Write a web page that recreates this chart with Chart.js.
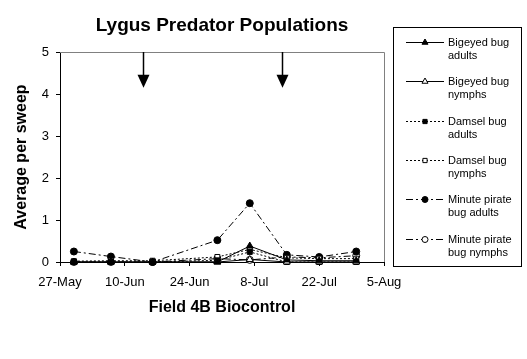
<!DOCTYPE html>
<html>
<head>
<meta charset="utf-8">
<script src="https://cdn.jsdelivr.net/npm/chart.js@4.4.1/dist/chart.umd.min.js"></script>
<style>
  html, body { margin: 0; padding: 0; background: #fff; }
  #chart { display: block; }
</style>
</head>
<body>
<canvas id="chart" width="527" height="359"></canvas>
<script>
// sample dates (season starts 27-May)
const sampleDates = ["30-May", "7-Jun", "16-Jun", "30-Jun", "7-Jul", "15-Jul", "22-Jul", "30-Jul"];
const tickLabels = ["27-May", "10-Jun", "24-Jun", "8-Jul", "22-Jul", "5-Aug"];

const bigeyedAdults = [0, 0, 0, 0, 0.38, 0.05, 0.03, 0.03];
const bigeyedNymphs = [0, 0, 0, 0, 0.06, 0, 0, 0];
const damselAdults = [0, 0, 0, 0.04, 0.24, 0, 0, 0];
const damselNymphs = [0.02, 0.03, 0.03, 0.12, 0.3, 0.1, 0.08, 0.08];
const pirateAdults = [0.25, 0.13, 0, 0.52, 1.4, 0.17, 0.12, 0.25];
const pirateNymphs = [0, 0, 0, 0.08, 0.05, 0.12, 0.1, 0.15];

// release arrows
const arrowDates = ["14-Jun", "14-Jul"];
const arrowTip = 4.15;

const months = { May: 4, Jun: 5, Jul: 6, Aug: 7 };
function dayOf(label) {
  const [d, m] = label.split("-");
  return (Date.UTC(2000, months[m], +d) - Date.UTC(2000, 4, 27)) / 86400000;
}

function series(values) {
  return values.map((v, i) => ({ x: dayOf(sampleDates[i]), y: v }));
}

const font = "Arial, 'Liberation Sans', sans-serif";
const solid = [];
const dotted = [2, 2];
const dashDot = [7, 3, 2, 3];

const datasets = [
  { label: ["Bigeyed bug", "adults"], data: series(bigeyedAdults), borderDash: solid, pointStyle: "triangle", pointBackgroundColor: "#000", pointRadius: 4 },
  { label: ["Bigeyed bug", "nymphs"], data: series(bigeyedNymphs), borderDash: solid, pointStyle: "triangle", pointBackgroundColor: "#fff", pointRadius: 4 },
  { label: ["Damsel bug", "adults"], data: series(damselAdults), borderDash: dotted, pointStyle: "rect", pointBackgroundColor: "#000", pointRadius: 3.5 },
  { label: ["Damsel bug", "nymphs"], data: series(damselNymphs), borderDash: dotted, pointStyle: "rect", pointBackgroundColor: "#fff", pointRadius: 3.5 },
  { label: ["Minute pirate", "bug adults"], data: series(pirateAdults), borderDash: dashDot, pointStyle: "circle", pointBackgroundColor: "#000", pointRadius: 3.5 },
  { label: ["Minute pirate", "bug nymphs"], data: series(pirateNymphs), borderDash: dashDot, pointStyle: "circle", pointBackgroundColor: "#fff", pointRadius: 3.5 },
].map((d) => Object.assign({
  borderColor: "#000",
  borderWidth: 1,
  pointBorderColor: "#000",
  pointBorderWidth: 1,
  tension: 0,
  clip: false,
}, d));

function marker(ctx, ds, x, y) {
  ctx.save();
  ctx.setLineDash([]);
  ctx.fillStyle = ds.pointBackgroundColor;
  ctx.strokeStyle = "#000";
  ctx.lineWidth = 1;
  Chart.helpers.drawPoint(ctx, { pointStyle: ds.pointStyle, radius: ds.pointRadius - 0.5, rotation: 0, borderWidth: 1 }, x, y);
  ctx.restore();
}

const decor = {
  id: "decor",
  afterDraw(chart) {
    const ctx = chart.ctx;
    const { left, right, top, bottom } = chart.chartArea;
    const xs = chart.scales.x, ys = chart.scales.y;
    ctx.save();

    // plot frame (top/right)
    ctx.strokeStyle = "#808080";
    ctx.lineWidth = 1;
    ctx.beginPath();
    ctx.moveTo(left, top + 0.5);
    ctx.lineTo(right + 0.5, top + 0.5);
    ctx.lineTo(right + 0.5, bottom);
    ctx.stroke();

    // title
    ctx.fillStyle = "#000";
    ctx.font = "bold 19px " + font;
    ctx.textAlign = "center";
    ctx.textBaseline = "middle";
    ctx.fillText("Lygus Predator Populations", (left + right) / 2, 26);

    // arrows
    arrowDates.forEach((d) => {
      const x = Math.round(xs.getPixelForValue(dayOf(d))) + 0.5;
      const yTip = ys.getPixelForValue(arrowTip);
      ctx.strokeStyle = "#000";
      ctx.lineWidth = 1.5;
      ctx.beginPath();
      ctx.moveTo(x, top);
      ctx.lineTo(x, yTip - 12);
      ctx.stroke();
      ctx.fillStyle = "#000";
      ctx.beginPath();
      ctx.moveTo(x - 6, yTip - 13);
      ctx.lineTo(x + 6, yTip - 13);
      ctx.lineTo(x, yTip);
      ctx.closePath();
      ctx.fill();
    });

    // legend
    ctx.strokeStyle = "#000";
    ctx.lineWidth = 1;
    ctx.setLineDash([]);
    ctx.strokeRect(393.5, 27.5, 128, 239);
    ctx.font = "11px " + font;
    ctx.textAlign = "left";
    chart.data.datasets.forEach((ds, i) => {
      const y = Math.round(42 + i * 39.3) + 0.5;
      ctx.strokeStyle = "#000";
      ctx.lineWidth = 1;
      ctx.setLineDash(ds.borderDash);
      ctx.beginPath();
      ctx.moveTo(406, y);
      ctx.lineTo(444, y);
      ctx.stroke();
      marker(ctx, ds, 425, y);
      ctx.fillStyle = "#000";
      ds.label.forEach((t, j) => ctx.fillText(t, 448, y + j * 13));
    });
    ctx.restore();
  },
};

new Chart(document.getElementById("chart"), {
  type: "line",
  data: { datasets },
  plugins: [decor],
  options: {
    responsive: false,
    animation: false,
    layout: { padding: { left: 0, right: 143, top: 52, bottom: 0 } },
    plugins: { legend: { display: false }, title: { display: false }, tooltip: { enabled: false } },
    scales: {
      x: {
        type: "linear",
        min: 0,
        max: 70,
        afterFit: (s) => { s.height = 97; },
        afterBuildTicks: (s) => { s.ticks = tickLabels.map((t, i) => ({ value: i * 14 })); },
        ticks: {
          callback: (v) => tickLabels[v / 14],
          color: "#000",
          font: { family: font, size: 13 },
          padding: 9,
          maxRotation: 0,
        },
        grid: { drawOnChartArea: false, tickLength: 4, color: "#000" },
        border: { color: "#000" },
        title: {
          display: true,
          text: "Field 4B Biocontrol",
          color: "#000",
          font: { family: font, size: 16, weight: "bold" },
          padding: { top: 0, bottom: 42 },
        },
      },
      y: {
        min: 0,
        max: 5,
        afterFit: (s) => { s.width = 60; },
        ticks: {
          stepSize: 1,
          color: "#000",
          font: { family: font, size: 13 },
          padding: 7,
        },
        grid: { drawOnChartArea: false, tickLength: 4, color: "#000" },
        border: { color: "#000" },
        title: {
          display: true,
          text: "Average per sweep",
          color: "#000",
          font: { family: font, size: 16, weight: "bold" },
          padding: { top: 12, bottom: 0 },
        },
      },
    },
  },
});
</script>
</body>
</html>
